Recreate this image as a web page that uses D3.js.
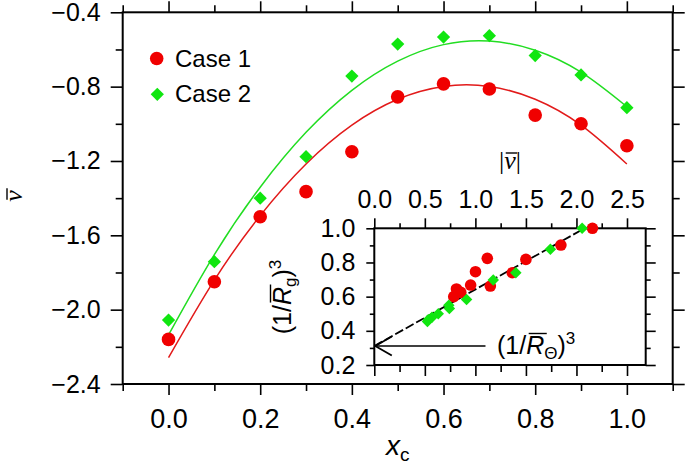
<!DOCTYPE html>
<html><head><meta charset="utf-8">
<script src="https://cdn.jsdelivr.net/npm/d3@7"></script>
<style>body{margin:0;background:#fff}svg{display:block}</style>
</head><body><svg id="c" width="685" height="464"></svg>
<script>
// ---- main panel data ----
const xc = [0.0,0.1,0.2,0.3,0.4,0.5,0.6,0.7,0.8,0.9,1.0];
const case1 = [-2.16,-1.85,-1.50,-1.365,-1.15,-0.855,-0.785,-0.813,-0.953,-1.00,-1.118];
const case2 = [-2.056,-1.742,-1.40,-1.177,-0.743,-0.571,-0.533,-0.526,-0.633,-0.737,-0.913];
const fit1 = [-2.258,-1.841,-1.494,-1.216,-1.007,-0.868,-0.799,-0.799,-0.868,-1.007,-1.216];
const fit2 = [-2.136,-1.704,-1.341,-1.046,-0.820,-0.663,-0.574,-0.555,-0.604,-0.722,-0.908];
const xMajor = [0.0,0.2,0.4,0.6,0.8,1.0];
const xMinor = [-0.1,0.1,0.3,0.5,0.7,0.9,1.1];
const yMajor = [-2.4,-2.0,-1.6,-1.2,-0.8,-0.4];
const yMinor = [-2.2,-1.8,-1.4,-1.0,-0.6];
const legendNames = ["Case 1","Case 2"];
// ---- inset data ----
const inset1Nu = [2.158,1.846,1.50,1.365,1.148,0.856,0.786,0.813,0.953,1.001,1.118];
const inset1R  = [1.0,0.902,0.818,0.740,0.662,0.625,0.600,0.645,0.668,0.746,0.824];
const inset2Nu = [2.056,1.742,1.40,1.177,0.743,0.571,0.533,0.526,0.633,0.737,0.913];
const inset2R  = [1.0,0.877,0.740,0.697,0.530,0.480,0.465,0.455,0.500,0.550,0.584];
const lineNu = [0.0,2.08];
const lineR  = [0.311,1.0];
const arrowNu = [1.10,0.0];
const arrowR  = [0.311,0.311];
const inXMajor = [0,0.5,1.0,1.5,2.0,2.5];
const inXMinor = [0.25,0.75,1.25,1.75,2.25];
const inYMajor = [0.2,0.4,0.6,0.8,1.0];
const inYMinor = [0.3,0.5,0.7,0.9];

const RED="#f00000", GREEN="#10e610", REDL="#e21a1a", GREENL="#22dd22";
const SANS='"Liberation Sans", Arial, Helvetica, sans-serif';
const SERIF='"Liberation Serif", "Times New Roman", serif';
const svg = d3.select("#c");
const fmt = d3.format(".1f");

function axis(gen, tr, vals, size, labeled, fs, pad){
  gen.tickValues(vals).tickSize(size).tickPadding(pad||3).tickFormat(labeled ? fmt : "");
  const g = svg.append("g").attr("transform", tr).call(gen)
    .attr("font-family", SANS).attr("font-size", fs||12);
  g.select(".domain").remove();
  g.selectAll("line").attr("stroke","#000").attr("stroke-width",1.6);
  g.selectAll("text").attr("fill","#000");
  return g;
}
function overline(g, textSel, idx, rise, shift){
  const n = textSel.node();
  const s = n.getStartPositionOfChar(idx), e = n.getEndPositionOfChar(idx);
  g.append("line").attr("x1", s.x + shift).attr("x2", e.x + shift)
    .attr("y1", s.y - rise).attr("y2", s.y - rise)
    .attr("stroke","#000").attr("stroke-width",1.4);
}

// ===== main panel =====
const X0=122.7, X1=672.7, Y0=12.3, Y1=384;
const x = d3.scaleLinear().domain([-0.1,1.1]).range([X0,X1]);
const y = d3.scaleLinear().domain([-2.4,-0.4]).range([Y1,Y0]);

axis(d3.axisBottom(x), `translate(0,${Y1})`, xMajor, 11, true, 27, 14);
axis(d3.axisBottom(x), `translate(0,${Y1})`, xMinor, 7, false);
axis(d3.axisTop(x), `translate(0,${Y0})`, xMajor, 11, false);
axis(d3.axisTop(x), `translate(0,${Y0})`, xMinor, 7, false);
axis(d3.axisLeft(y), `translate(${X0},0)`, yMajor, 12, true, 25, 10);
axis(d3.axisLeft(y), `translate(${X0},0)`, yMinor, 7, false);
axis(d3.axisRight(y), `translate(${X1},0)`, yMajor, 12, false);
axis(d3.axisRight(y), `translate(${X1},0)`, yMinor, 7, false);
svg.append("rect").attr("x",X0).attr("y",Y0).attr("width",X1-X0).attr("height",Y1-Y0)
  .attr("fill","none").attr("stroke","#000").attr("stroke-width",2);

const line = d3.line().curve(d3.curveNatural).x(d=>x(d[0])).y(d=>y(d[1]));
svg.append("path").attr("d", line(d3.zip(xc,fit1))).attr("fill","none").attr("stroke",REDL).attr("stroke-width",1.5);
svg.append("path").attr("d", line(d3.zip(xc,fit2))).attr("fill","none").attr("stroke",GREENL).attr("stroke-width",1.5);

const diamond = d3.symbol().type(d3.symbolSquare);
svg.append("g").selectAll("circle").data(d3.zip(xc,case1)).join("circle")
  .attr("cx",d=>x(d[0])).attr("cy",d=>y(d[1])).attr("r",6.8).attr("fill",RED);
svg.append("g").selectAll("path").data(d3.zip(xc,case2)).join("path")
  .attr("d", diamond.size(88)()).attr("fill",GREEN)
  .attr("transform",d=>`translate(${x(d[0])},${y(d[1])}) rotate(45)`);

// legend
svg.append("circle").attr("cx",156.7).attr("cy",58.5).attr("r",6.8).attr("fill",RED);
svg.append("path").attr("d", diamond.size(88)()).attr("fill",GREEN).attr("transform","translate(157.3,94.3) rotate(45)");
svg.append("text").attr("x",175).attr("y",67).attr("font-family",SANS).attr("font-size",24).text(legendNames[0]);
svg.append("text").attr("x",175).attr("y",102).attr("font-family",SANS).attr("font-size",24).text(legendNames[1]);

// axis titles
const xt = svg.append("text").attr("x",(X0+X1)/2).attr("y",455).attr("text-anchor","middle")
  .attr("font-family",SANS).attr("font-size",28);
xt.append("tspan").attr("font-style","italic").text("x");
xt.append("tspan").attr("font-size",19).attr("dy",6).text("c");

const yg = svg.append("g").attr("transform","translate(22,196) rotate(-90)");
const yt = yg.append("text").attr("text-anchor","middle").attr("font-family",SERIF)
  .attr("font-style","italic").attr("font-size",26).text("ν");
overline(yg, yt, 0, 15, 2);

// ===== inset =====
const IX0=374.3, IX1=645.7, IY0=228.3, IY1=365;
svg.append("rect").attr("x",IX0).attr("y",IY0).attr("width",IX1-IX0).attr("height",IY1-IY0).attr("fill","#fff");
const ix = d3.scaleLinear().domain([0,2.685]).range([IX0,IX1]);
const iy = d3.scaleLinear().domain([0.2,1.0]).range([IY1,IY0]);

axis(d3.axisTop(ix), `translate(0,${IY0})`, inXMajor, 10, true, 25, 10);
axis(d3.axisTop(ix), `translate(0,${IY0})`, inXMinor, 5, false);
axis(d3.axisBottom(ix), `translate(0,${IY1})`, inXMajor, 11, false);
axis(d3.axisBottom(ix), `translate(0,${IY1})`, inXMinor, 7, false);
axis(d3.axisLeft(iy), `translate(${IX0},0)`, inYMajor, 8, true, 25, 11);
axis(d3.axisLeft(iy), `translate(${IX0},0)`, inYMinor, 4.5, false);
axis(d3.axisRight(iy), `translate(${IX1},0)`, inYMajor, 10, false);
axis(d3.axisRight(iy), `translate(${IX1},0)`, inYMinor, 5, false);
svg.append("rect").attr("x",IX0).attr("y",IY0).attr("width",IX1-IX0).attr("height",IY1-IY0)
  .attr("fill","none").attr("stroke","#000").attr("stroke-width",2);

// dashed guide line
const iline = d3.line().x(d=>ix(d[0])).y(d=>iy(d[1]));
svg.append("path").attr("d", iline(d3.zip(lineNu,lineR))).attr("fill","none")
  .attr("stroke","#000").attr("stroke-width",1.8).attr("stroke-dasharray","9,3");

svg.append("g").selectAll("circle").data(d3.zip(inset1Nu,inset1R)).join("circle")
  .attr("cx",d=>ix(d[0])).attr("cy",d=>iy(d[1])).attr("r",5.8).attr("fill",RED);
svg.append("g").selectAll("path").data(d3.zip(inset2Nu,inset2R)).join("path")
  .attr("d", diamond.size(66)()).attr("fill",GREEN)
  .attr("transform",d=>`translate(${ix(d[0])},${iy(d[1])}) rotate(45)`);

// arrow
svg.append("path").attr("d", iline(d3.zip(arrowNu,arrowR))).attr("fill","none").attr("stroke","#000").attr("stroke-width",1.6);
const tipX = ix(arrowNu[1]) + 1, tipY = iy(arrowR[1]);
svg.append("path").attr("d",`M${tipX+16.5},${tipY-9.5}L${tipX},${tipY}L${tipX+16.5},${tipY+9.5}`)
  .attr("fill","none").attr("stroke","#000").attr("stroke-width",1.8);

// annotation (1/R̄Θ)^3
const ag = svg.append("g");
const at = ag.append("text").attr("x",497).attr("y",354).attr("font-family",SANS).attr("font-size",25);
at.append("tspan").text("(1/");
at.append("tspan").attr("font-style","italic").text("R");
at.append("tspan").attr("font-size",17).attr("dy",5).text("Θ");
at.append("tspan").attr("dy",-5).text(")");
at.append("tspan").attr("font-size",17).attr("dy",-10).text("3");
overline(ag, at, 3, 20.5, 2.5);

// inset y title (1/R̄g)^3
const ig = svg.append("g").attr("transform","translate(291,297) rotate(-90)");
const it = ig.append("text").attr("text-anchor","middle").attr("font-family",SANS).attr("font-size",25);
it.append("tspan").text("(1/");
it.append("tspan").attr("font-style","italic").text("R");
it.append("tspan").attr("font-size",17).attr("dy",5).text("g");
it.append("tspan").attr("dy",-5).text(")");
it.append("tspan").attr("font-size",17).attr("dy",-10).text("3");
overline(ig, it, 3, 20.5, 2.5);

// inset top title |ν̄|
const ng = svg.append("g");
const nt = ng.append("text").attr("x",510).attr("y",169).attr("text-anchor","middle")
  .attr("font-family",SERIF).attr("font-size",26);
nt.append("tspan").text("|");
nt.append("tspan").attr("font-style","italic").text("ν");
nt.append("tspan").text("|");
overline(ng, nt, 1, 16, 1.5);
</script></body></html>
